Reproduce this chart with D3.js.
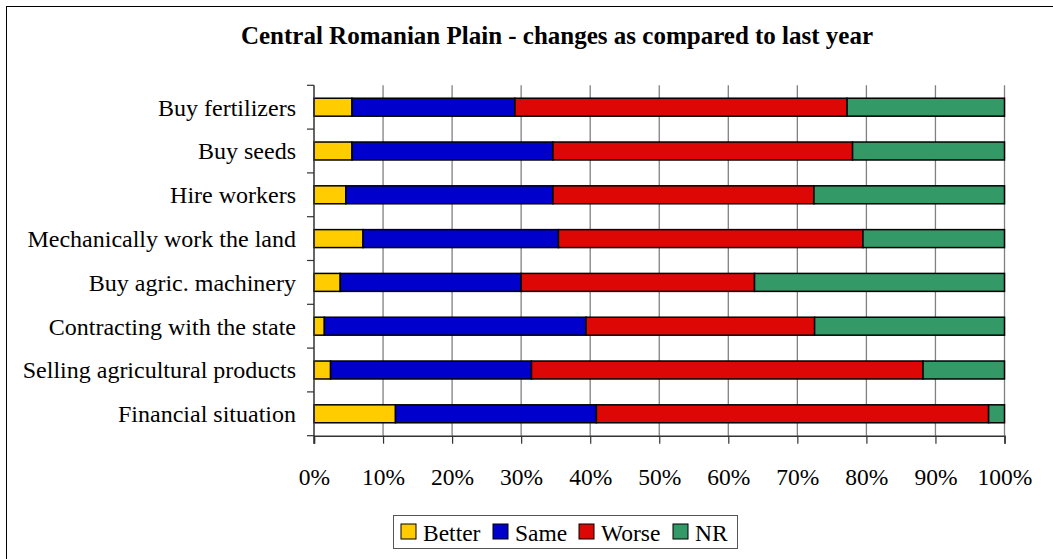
<!DOCTYPE html>
<html>
<head>
<meta charset="utf-8">
<script src="https://cdn.jsdelivr.net/npm/d3@7"></script>
<style>
  body { margin: 0; background: #fff; }
  text { font-family: "Liberation Serif", "Times New Roman", serif; fill: #000; }
</style>
</head>
<body>
<svg width="1053" height="559"></svg>
<script>
// categories, top to bottom
var categories = [
    "Buy fertilizers",
    "Buy seeds",
    "Hire workers",
    "Mechanically work the land",
    "Buy agric. machinery",
    "Contracting with the state",
    "Selling agricultural products",
    "Financial situation"
];

// series values (% of answers), same order as categories
var better = [5.5, 5.5, 4.6, 7.1, 3.8, 1.5, 2.4, 11.8];
var same   = [23.6, 29.1, 30.0, 28.3, 26.2, 37.9, 29.1, 29.1];
var worse  = [48.1, 43.4, 37.8, 44.1, 33.8, 33.1, 56.7, 56.8];
var nr     = [22.8, 22.0, 27.6, 20.5, 36.2, 27.5, 11.8, 2.3];

var seriesNames = ["Better", "Same", "Worse", "NR"];
var colors = ["#ffcc00", "#0000cc", "#dd0806", "#339966"];
var tickValues = [0, 0.1, 0.2, 0.3, 0.4, 0.5, 0.6, 0.7, 0.8, 0.9, 1];

var rows = categories.map(function (c, i) {
    return { name: c, Better: better[i], Same: same[i], Worse: worse[i], NR: nr[i] };
});

var svg = d3.select("svg");

// outer chart border (runs off the bottom / right of the picture)
svg.append("rect")
    .attr("x", 6.5).attr("y", 6.5)
    .attr("width", 1060).attr("height", 570)
    .attr("fill", "none").attr("stroke", "#000").attr("stroke-width", 1);

var plot = { left: 314, right: 1004.5, top: 85.3, bottom: 435.7 };

var x = d3.scaleLinear().domain([0, 1]).range([plot.left, plot.right]);
var y = d3.scaleBand().domain(categories)
    .range([plot.top, plot.bottom])
    .paddingInner(0.59).paddingOuter(0.295);

// normalise each row to 100%
var stack = d3.stack().keys(seriesNames).offset(d3.stackOffsetExpand);
var stacked = stack(rows);

// grid lines
svg.append("g").selectAll("line")
    .data(tickValues.slice(1))
    .join("line")
    .attr("x1", function (d) { return x(d); })
    .attr("x2", function (d) { return x(d); })
    .attr("y1", plot.top).attr("y2", plot.bottom)
    .attr("stroke", "#808080").attr("stroke-width", 1.3);

// bars
svg.append("g").selectAll("g")
    .data(stacked)
    .join("g")
    .attr("fill", function (d, i) { return colors[i]; })
    .selectAll("rect")
    .data(function (d) { return d; })
    .join("rect")
    .attr("x", function (d) { return x(d[0]); })
    .attr("width", function (d) { return x(d[1]) - x(d[0]); })
    .attr("y", function (d) { return y(d.data.name); })
    .attr("height", y.bandwidth())
    .attr("stroke", "#000").attr("stroke-width", 1.5);

// x axis
var xAxis = d3.axisBottom(x)
    .tickValues(tickValues)
    .tickFormat(d3.format(".0%"))
    .tickSize(8).tickPadding(25);

var gx = svg.append("g")
    .attr("transform", "translate(0," + plot.bottom + ")")
    .call(xAxis);
gx.select(".domain").attr("stroke", "#333").attr("stroke-width", 1.5);
gx.selectAll(".tick line").attr("stroke", "#333").attr("stroke-width", 1.2);
gx.selectAll(".tick text")
    .style("font-family", "Liberation Serif, Times New Roman, serif")
    .style("font-size", "23.5px");

// y axis: ticks sit between categories
var gy = svg.append("g");
gy.append("line")
    .attr("x1", plot.left).attr("x2", plot.left)
    .attr("y1", plot.top).attr("y2", plot.bottom + 8)
    .attr("stroke", "#333").attr("stroke-width", 1.5);
gy.selectAll("line.tk")
    .data(d3.range(categories.length + 1))
    .join("line")
    .attr("class", "tk")
    .attr("x1", plot.left - 7).attr("x2", plot.left)
    .attr("y1", function (i) { return plot.top + i * y.step(); })
    .attr("y2", function (i) { return plot.top + i * y.step(); })
    .attr("stroke", "#333").attr("stroke-width", 1.2);
gy.selectAll("text")
    .data(categories)
    .join("text")
    .attr("x", plot.left - 18)
    .attr("y", function (d) { return y(d) + y.bandwidth() / 2; })
    .attr("dy", "0.35em")
    .attr("text-anchor", "end")
    .style("font-size", "24px")
    .text(function (d) { return d; });

// title
svg.append("text")
    .attr("x", 557).attr("y", 44)
    .attr("text-anchor", "middle")
    .style("font-size", "25px").style("font-weight", "bold")
    .text("Central Romanian Plain - changes as compared to last year");

// legend
var legend = svg.append("g");
legend.append("rect")
    .attr("x", 393.5).attr("y", 515.5)
    .attr("width", 344).attr("height", 33)
    .attr("fill", "#fff").attr("stroke", "#555").attr("stroke-width", 1);
var legendX = [401, 493, 579, 673];
var item = legend.selectAll("g.item")
    .data(seriesNames)
    .join("g")
    .attr("class", "item")
    .attr("transform", function (d, i) { return "translate(" + legendX[i] + ",0)"; });
item.append("rect")
    .attr("x", 0).attr("y", 524)
    .attr("width", 15).attr("height", 15)
    .attr("fill", function (d, i) { return colors[i]; })
    .attr("stroke", "#000").attr("stroke-width", 1);
item.append("text")
    .attr("x", 22).attr("y", 541)
    .style("font-size", "23.5px")
    .text(function (d) { return d; });
</script>
</body>
</html>
